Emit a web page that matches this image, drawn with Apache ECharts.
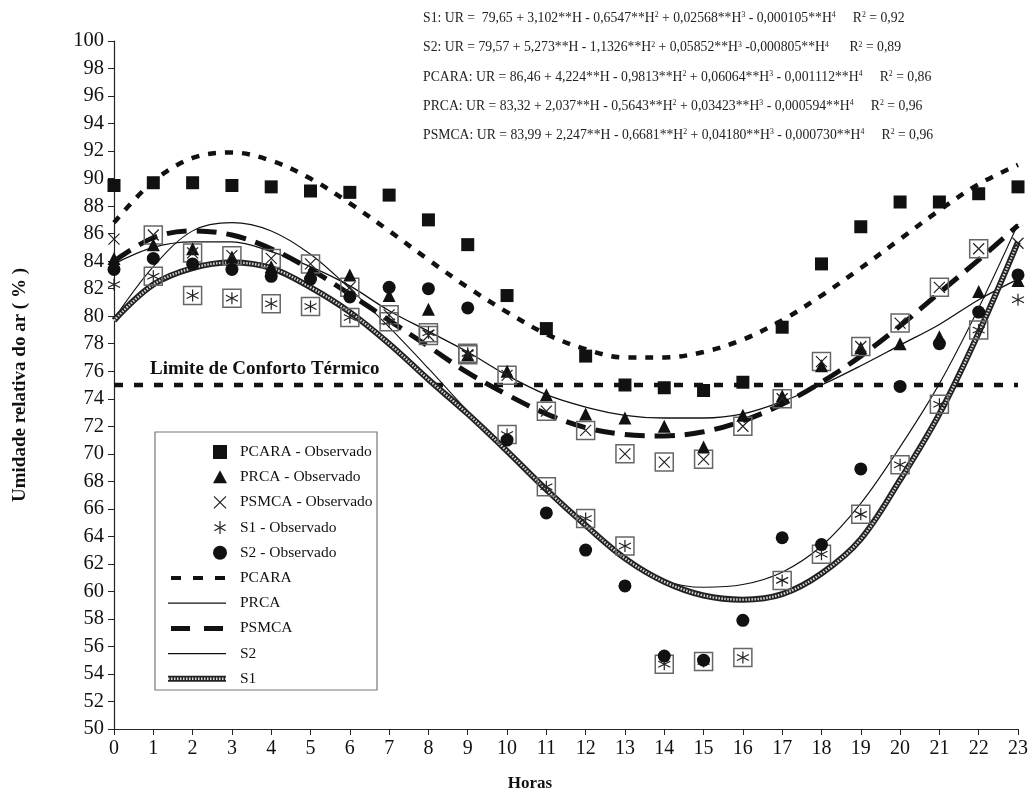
<!DOCTYPE html>
<html><head><meta charset="utf-8">
<script src="https://cdn.jsdelivr.net/npm/echarts/dist/echarts.min.js"></script>
<style>html,body{margin:0;padding:0;background:#fff}#c{width:1033px;height:793px}</style>
</head><body><div id="c"></div>
<script>
const hours = [0,1,2,3,4,5,6,7,8,9,10,11,12,13,14,15,16,17,18,19,20,21,22,23];
const boxedHours = [1,2,3,4,5,6,7,8,9,10,11,12,13,14,15,16,17,18,19,20,21,22];
const yTicks = {min: 50, max: 100, step: 2};
const limitValue = 75;
const limitLabel = 'Limite de Conforto Térmico';

// observed values
const pcaraObs = [89.5,89.7,89.7,89.5,89.4,89.1,89.0,88.8,87.0,85.2,81.5,79.1,77.1,75.0,74.8,74.6,75.2,79.2,83.8,86.5,88.3,88.3,88.9,89.4];
const prcaObs  = [84.2,85.2,84.9,84.3,83.6,83.2,83.0,81.5,80.5,77.2,76.0,74.3,72.9,72.6,72.0,70.5,72.8,74.2,76.4,77.7,78.0,78.5,81.8,82.6];
const psmcaObs = [85.6,85.9,84.6,84.4,84.2,83.8,82.1,80.1,78.6,77.2,75.7,73.1,71.7,70.0,69.4,69.6,72.0,74.0,76.7,77.8,79.5,82.1,84.9,85.3];
const s1Obs    = [82.3,82.9,81.5,81.3,80.9,80.7,79.9,79.6,78.8,77.3,71.4,67.6,65.3,63.3,54.7,54.9,55.2,60.8,62.7,65.6,69.2,73.6,79.0,81.2];
const s2Obs    = [83.4,84.2,83.8,83.4,82.9,82.7,81.4,82.1,82.0,80.6,71.0,65.7,63.0,60.4,55.3,55.0,57.9,63.9,63.4,68.9,74.9,78.0,80.3,83.0];

// fitted curves
const pcaraFit = [86.8,89.8,91.5,91.9,91.3,90.0,88.2,86.2,84.1,82.1,80.3,78.7,77.6,77.0,77.0,77.4,78.3,79.7,81.5,83.5,85.6,87.7,89.6,91.0];
const prcaFit  = [83.8,85.0,85.4,85.4,84.7,83.6,82.2,80.4,78.9,77.4,75.7,74.3,73.4,72.8,72.6,72.6,72.9,73.8,75.0,76.4,77.9,79.4,81.2,82.7];
const psmcaFit = [84.0,85.7,86.2,85.9,84.9,83.4,81.6,79.7,77.8,75.9,74.3,72.9,71.9,71.4,71.3,71.6,72.4,73.6,75.2,77.1,79.3,81.7,84.1,86.6];
const s2Fit    = [79.8,83.6,86.2,86.8,86.2,84.5,82.0,79.2,76.2,73.1,70.3,67.4,64.7,62.4,60.8,60.3,60.5,61.4,63.3,66.4,70.5,75.1,80.6,86.7];
const s1Fit    = [79.7,82.3,83.5,83.9,83.5,82.1,80.3,78.0,75.4,72.9,70.2,67.4,64.8,62.4,60.7,59.7,59.4,59.8,61.3,63.8,68.1,72.9,78.8,85.4];

const equations = [
  'S1: UR =  79,65 + 3,102**H - 0,6547**H{s|2} + 0,02568**H{s|3} - 0,000105**H{s|4}     R{s|2} = 0,92',
  'S2: UR = 79,57 + 5,273**H - 1,1326**H{s|2} + 0,05852**H{s|3} -0,000805**H{s|4}      R{s|2} = 0,89',
  'PCARA: UR = 86,46 + 4,224**H - 0,9813**H{s|2} + 0,06064**H{s|3} - 0,001112**H{s|4}     R{s|2} = 0,86',
  'PRCA: UR = 83,32 + 2,037**H - 0,5643**H{s|2} + 0,03423**H{s|3} - 0,000594**H{s|4}     R{s|2} = 0,96',
  'PSMCA: UR = 83,99 + 2,247**H - 0,6681**H{s|2} + 0,04180**H{s|3} - 0,000730**H{s|4}     R{s|2} = 0,96'
];
const legendNames = ['PCARA - Observado', 'PRCA - Observado', 'PSMCA - Observado', 'S1 - Observado', 'S2 - Observado',
                     'PCARA', 'PRCA', 'PSMCA', 'S2', 'S1'];

const FONT = '"Liberation Serif","Times New Roman",serif';
const INK = '#111';
const pair = arr => hours.map((h, i) => [h, arr[i]]);
const boxPair = arr => boxedHours.map(h => [h, arr[hours.indexOf(h)]]);

const X_PATH = 'path://M0,0L10,10M10,0L0,10';
const AST_PATH = 'path://M5,0L5,10M0.67,2.5L9.33,7.5M0.67,7.5L9.33,2.5';

const STY = {
  'PCARA': {color: INK, width: 4.5, type: [8, 9]},
  'PRCA': {color: INK, width: 1.3, type: 'solid'},
  'PSMCA': {color: INK, width: 5, type: [20, 10]},
  'S2': {color: INK, width: 1.1, type: 'solid'},
  'S1': {color: '#222', width: 6, type: 'solid'},
  'S1h': {color: '#d8d8d8', width: 2.4, type: [1.5, 1.5]}
};

function lineSeries(name, data, style, z) {
  return {
    name, type: 'line', data: pair(data), smooth: 0.35, symbol: 'none', showSymbol: false,
    lineStyle: style, itemStyle: {color: style.color}, z: z || 2, silent: true
  };
}
function scatter(name, data, symbol, size, itemStyle, z) {
  return {name, type: 'scatter', data, symbol, symbolSize: size,
          itemStyle: Object.assign({opacity: 1}, itemStyle), z: z || 5, silent: true};
}

const chart = echarts.init(document.getElementById('c'), null, {renderer: 'canvas'});
const option = {
  backgroundColor: '#fff',
  animation: false,
  grid: {left: 114, right: 15, top: 41, bottom: 64, containLabel: false, outerBoundsMode: 'none'},
  xAxis: {
    type: 'value', min: 0, max: 23, interval: 1,
    name: 'Horas', nameLocation: 'middle', nameGap: 46,
    nameTextStyle: {fontFamily: FONT, fontWeight: 'bold', fontSize: 17, color: INK, padding: [0, 72, 0, 0]},
    axisLine: {show: true, lineStyle: {color: '#222', width: 1.2}},
    axisTick: {show: true, length: 6, lineStyle: {color: '#222'}},
    axisLabel: {fontFamily: FONT, fontSize: 20, color: INK, margin: 10},
    splitLine: {show: false}
  },
  yAxis: {
    type: 'value', min: yTicks.min, max: yTicks.max, interval: yTicks.step,
    name: 'Umidade relativa do ar ( % )', nameLocation: 'middle', nameGap: 84, nameRotate: 90,
    nameTextStyle: {fontFamily: FONT, fontWeight: 'bold', fontSize: 19, color: INK},
    axisLine: {show: true, lineStyle: {color: '#222', width: 1.2}},
    axisTick: {show: true, length: 6, lineStyle: {color: '#222'}},
    axisLabel: {fontFamily: FONT, fontSize: 20.5, color: INK, margin: 10},
    splitLine: {show: false}
  },
  series: [
    {name: 'limit', type: 'line', data: [[hours[0], limitValue], [hours[hours.length - 1], limitValue]],
     symbol: 'none', lineStyle: {color: INK, width: 4.5, type: [9, 11]}, z: 1, silent: true},
    lineSeries('PCARA', pcaraFit, STY['PCARA']),
    lineSeries('PRCA', prcaFit, STY['PRCA']),
    lineSeries('PSMCA', psmcaFit, STY['PSMCA']),
    lineSeries('S2', s2Fit, STY['S2']),
    lineSeries('S1', s1Fit, STY['S1']),
    lineSeries('S1 hatch', s1Fit, STY['S1h'], 3),
    scatter('box PSMCA', boxPair(psmcaObs), 'rect', 18, {color: 'rgba(0,0,0,0)', borderColor: '#666', borderWidth: 1.5}, 4),
    scatter('box S1', boxPair(s1Obs), 'rect', 18, {color: 'rgba(0,0,0,0)', borderColor: '#666', borderWidth: 1.5}, 4),
    scatter('PCARA - Observado', pair(pcaraObs), 'rect', 13, {color: INK}),
    scatter('PRCA - Observado', pair(prcaObs), 'triangle', 13, {color: INK}),
    scatter('PSMCA - Observado', pair(psmcaObs), X_PATH, 11, {color: 'rgba(0,0,0,0)', borderColor: '#222', borderWidth: 1.2}),
    scatter('S1 - Observado', pair(s1Obs), AST_PATH, 12, {color: 'rgba(0,0,0,0)', borderColor: '#222', borderWidth: 1.2}),
    scatter('S2 - Observado', pair(s2Obs), 'circle', 13, {color: INK})
  ]
};
chart.setOption(option);

// ---- custom legend box (drawn as graphics) ----
const LG = {x: 155, y: 432, w: 222, h: 258, first: 452, step: 25.2, sx: 220, lx0: 168, lx1: 226, tx: 240};
const legendEls = [{type: 'rect', z: 20, shape: {x: LG.x, y: LG.y, width: LG.w, height: LG.h},
  style: {fill: '#fff', stroke: '#777', lineWidth: 1.2}}];
function segLine(x0, x1, cy, st) {
  const dash = Array.isArray(st.type) ? st.type : null;
  return {type: 'line', z: 21, shape: {x1: x0, y1: cy, x2: x1, y2: cy},
    style: {stroke: st.color, lineWidth: st.width, lineDash: dash}};
}
legendNames.forEach((name, i) => {
  const cy = LG.first + i * LG.step;
  const sx = LG.sx;
  if (name === 'PCARA - Observado') {
    legendEls.push({type: 'rect', z: 21, shape: {x: sx - 7, y: cy - 7, width: 14, height: 14}, style: {fill: INK}});
  } else if (name === 'PRCA - Observado') {
    legendEls.push({type: 'polygon', z: 21, shape: {points: [[sx, cy - 7], [sx + 7, cy + 6], [sx - 7, cy + 6]]}, style: {fill: INK}});
  } else if (name === 'PSMCA - Observado') {
    legendEls.push({type: 'line', z: 21, shape: {x1: sx - 6, y1: cy - 6, x2: sx + 6, y2: cy + 6}, style: {stroke: '#222', lineWidth: 1.2}});
    legendEls.push({type: 'line', z: 21, shape: {x1: sx + 6, y1: cy - 6, x2: sx - 6, y2: cy + 6}, style: {stroke: '#222', lineWidth: 1.2}});
  } else if (name === 'S1 - Observado') {
    legendEls.push({type: 'line', z: 21, shape: {x1: sx, y1: cy - 6.5, x2: sx, y2: cy + 6.5}, style: {stroke: '#222', lineWidth: 1.2}});
    legendEls.push({type: 'line', z: 21, shape: {x1: sx - 5.6, y1: cy - 3.2, x2: sx + 5.6, y2: cy + 3.2}, style: {stroke: '#222', lineWidth: 1.2}});
    legendEls.push({type: 'line', z: 21, shape: {x1: sx - 5.6, y1: cy + 3.2, x2: sx + 5.6, y2: cy - 3.2}, style: {stroke: '#222', lineWidth: 1.2}});
  } else if (name === 'S2 - Observado') {
    legendEls.push({type: 'circle', z: 21, shape: {cx: sx, cy: cy, r: 7}, style: {fill: INK}});
  } else if (name === 'PCARA') {
    legendEls.push(segLine(LG.lx0 + 3, LG.lx1, cy, {color: INK, width: 4, type: [10, 12]}));
  } else if (name === 'PSMCA') {
    legendEls.push(segLine(LG.lx0 + 3, LG.lx1, cy, {color: INK, width: 5, type: [19, 14]}));
  } else if (name === 'S1') {
    legendEls.push(segLine(LG.lx0, LG.lx1, cy, STY['S1']));
    legendEls.push(segLine(LG.lx0, LG.lx1, cy, STY['S1h']));
  } else {
    legendEls.push(segLine(LG.lx0, LG.lx1, cy, STY[name]));
  }
  legendEls.push({type: 'text', z: 21, x: LG.tx, y: cy,
    style: {text: name, fontFamily: FONT, fontSize: 15.5, fill: INK, verticalAlign: 'middle', align: 'left'}});
});

const p0 = chart.convertToPixel({gridIndex: 0}, [hours[0], limitValue]);
const eqCenters = [18, 47.5, 77, 106, 135];
const eqGraphics = equations.map((t, i) => ({
  type: 'text', x: 423, y: eqCenters[i], scaleX: 0.915, z: 10,
  style: {text: t, fontFamily: FONT, fontSize: 15, fill: '#222', verticalAlign: 'middle', align: 'left',
          rich: {s: {fontSize: 8.5, verticalAlign: 'top', lineHeight: 8, fontFamily: FONT, fill: '#222'}}}
}));
chart.setOption({
  graphic: eqGraphics.concat(legendEls).concat([{
    type: 'text', x: p0[0] + 36, y: p0[1] - 16, z: 10,
    style: {text: limitLabel, fontFamily: FONT, fontWeight: 'bold', fontSize: 19, fill: INK, verticalAlign: 'middle'}
  }])
});
</script>
</body></html>
